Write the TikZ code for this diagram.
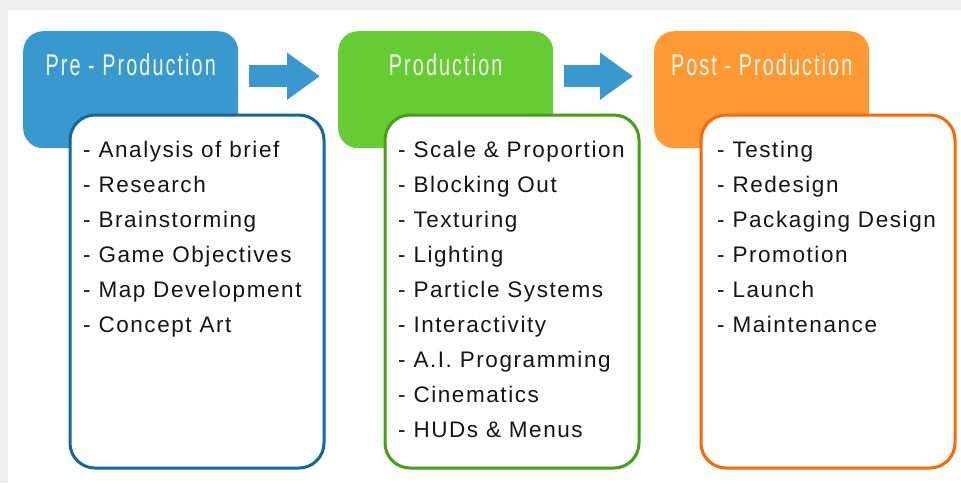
\documentclass[tikz,border=0pt]{standalone}
\usepackage{fontspec}
\usetikzlibrary{arrows.meta,calc}
\newfontfamily\itemfont{Liberation Sans}[LetterSpace=7]
\newfontfamily\headfont{Liberation Sans}[FakeStretch=0.66,LetterSpace=7]

\definecolor{preFill}{HTML}{3799CE}
\definecolor{preLine}{HTML}{13679B}
\definecolor{prodFill}{HTML}{66CC33}
\definecolor{prodLine}{HTML}{45A012}
\definecolor{postFill}{HTML}{FF9933}
\definecolor{postLine}{HTML}{FF6600}
\definecolor{pageGray}{HTML}{F0F0F0}
\definecolor{itemText}{HTML}{151515}
\definecolor{headText}{HTML}{F4F6EC}

\tikzset{
  headbox/.style={rectangle, rounded corners=20pt, minimum width=215pt,
    minimum height=117pt, anchor=north west, inner sep=0pt},
  headtext/.style={anchor=base, text=headText, inner sep=0pt,
    font=\headfont\fontsize{30}{34}\selectfont},
  listbox/.style={rectangle, rounded corners=25pt, fill=white, line width=3pt,
    minimum width=254pt, minimum height=353pt, anchor=north west, inner sep=0pt},
  item/.style={anchor=base west, text=itemText, inner sep=0pt,
    font=\itemfont\fontsize{22.5}{26}\selectfont},
  bigarrow/.style={preFill, line width=22pt,
    -{Triangle[width=45pt,length=33pt]}}
}

\begin{document}
\begin{tikzpicture}[x=1pt,y=-1pt]
  % page frame
  \fill[pageGray] (0,0) rectangle (961,483);
  \fill[white] (8,10) rectangle (961,483);
  \useasboundingbox (0,0) rectangle (961,483);

  % stage headers
  \node[headbox, fill=preFill]  (preh)  at (23,31)  {};
  \node[headbox, fill=prodFill] (prodh) at (338,31) {};
  \node[headbox, fill=postFill] (posth) at (654,31) {};

  \node[headtext] (pret)  at ($(preh.north)+(0,44)$)  {Pre - Production};
  \node[headtext] (prodt) at ($(prodh.north)+(0,44)$) {Production};
  \node[headtext] (postt) at ($(posth.north)+(0,44)$) {Post - Production};

  % arrows between stages
  \draw[bigarrow] ([xshift=11pt,yshift=13.5pt]preh.east) -- ([xshift=-18pt,yshift=13.5pt]prodh.west);
  \draw[bigarrow] ([xshift=11pt,yshift=13.5pt]prodh.east) -- ([xshift=-21pt,yshift=13.5pt]posth.west);

  % task lists
  \node[listbox, draw=preLine]  (prel)  at (68.5,113.5)  {};
  \node[listbox, draw=prodLine] (prodl) at (383.5,113.5) {};
  \node[listbox, draw=postLine] (postl) at (699.5,113.5) {};

  \foreach \t [count=\i] in {Analysis of brief, Research, Brainstorming,
      Game Objectives, Map Development, Concept Art}
    \node[item] (pre\i) at (83,{157+35*(\i-1)}) {- \t};

  \foreach \t [count=\i] in {Scale \& Proportion, Blocking Out, Texturing,
      Lighting, Particle Systems, Interactivity, A.I. Programming,
      Cinematics, HUDs \& Menus}
    \node[item] (prod\i) at (398,{157+35*(\i-1)}) {- \t};

  \foreach \t [count=\i] in {Testing, Redesign, Packaging Design,
      Promotion, Launch, Maintenance}
    \node[item] (post\i) at (717,{157+35*(\i-1)}) {- \t};
\end{tikzpicture}
\end{document}
